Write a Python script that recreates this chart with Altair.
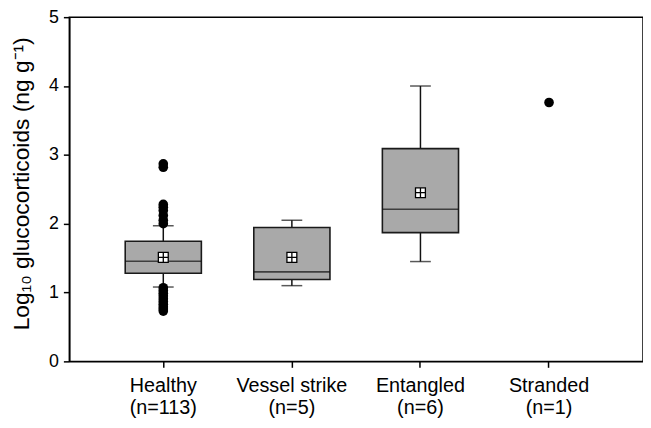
import altair as alt
import pandas as pd

# ---- data ----
categories = ["Healthy", "Vessel strike", "Entangled", "Stranded"]
n_labels = ["(n=113)", "(n=5)", "(n=6)", "(n=1)"]

box_cats = ["Healthy", "Vessel strike", "Entangled"]
q1 = [1.28, 1.19, 1.87]
median = [1.455, 1.30, 2.21]
q3 = [1.745, 1.945, 3.09]
whisker_lo = [1.08, 1.10, 1.45]
whisker_hi = [1.97, 2.05, 4.00]
means = [1.51, 1.51, 2.45]

point_cats = ["Healthy"] * 18 + ["Stranded"]
point_vals = [2.87, 2.82, 2.28, 2.24, 2.19, 2.12, 2.05, 2.00,
              1.07, 1.03, 0.99, 0.95, 0.91, 0.87, 0.83, 0.79, 0.76, 0.73,
              3.76]

y_ticks = [0, 1, 2, 3, 4, 5]

box_df = pd.DataFrame({"cat": box_cats, "q1": q1, "median": median, "q3": q3,
                       "lo": whisker_lo, "hi": whisker_hi, "mean": means})
caps_df = pd.DataFrame({"cat": box_cats + box_cats, "v": whisker_lo + whisker_hi})
pts_df = pd.DataFrame({"cat": point_cats, "v": point_vals})

label_map = "{" + ",".join(f"'{c}':'{n}'" for c, n in zip(categories, n_labels)) + "}"
label_expr = f"[datum.label, {label_map}[datum.label]]"

FONT = "Liberation Sans"

xscale = alt.Scale(domain=categories, paddingInner=0, paddingOuter=0.2308)
x_enc = alt.X("cat:N", scale=xscale, sort=categories, title=None,
              axis=alt.Axis(labelExpr=label_expr, labelAngle=0, labelFontSize=20,
                            labelLineHeight=23, labelPadding=8, tickSize=6,
                            domainWidth=1.5, tickWidth=1.5, labelFont=FONT,
                            labelColor="black", domainColor="black", tickColor="black",
                            labelBaseline="top"))
yscale = alt.Scale(domain=[0, 5], nice=False)
y_axis = alt.Axis(values=y_ticks, format="d", tickSize=6, labelFontSize=18, labelFont=FONT,
                  titleFont=FONT, titleFontSize=23, titleFontWeight="normal",
                  titleColor="black", labelColor="black", domainColor="black",
                  tickColor="black", domainWidth=1.5, tickWidth=1.5, grid=False,
                  labelPadding=5, titleAngle=270, titleX=-41, titleY=168,
                  titleAlign="center", titleBaseline="alphabetic")
ytitle = "Log\u2081\u2080  glucocorticoids  (ng g\u207b\u00b9)"

whiskers = alt.Chart(box_df).mark_rule(color="#111111", strokeWidth=1.5).encode(
    x=x_enc,
    y=alt.Y("lo:Q", scale=yscale, axis=y_axis, title=ytitle),
    y2="hi:Q")

caps = alt.Chart(caps_df).mark_tick(color="#111111", size=21, thickness=1.5).encode(
    x=x_enc, y=alt.Y("v:Q", scale=yscale))

boxes = alt.Chart(box_df).mark_bar(size=77, fill="#a9a9a9", stroke="#1a1a1a",
                                   strokeWidth=1.6).encode(
    x=x_enc, y=alt.Y("q1:Q", scale=yscale), y2="q3:Q")

meds = alt.Chart(box_df).mark_tick(color="#111111", size=77, thickness=1.6).encode(
    x=x_enc, y=alt.Y("median:Q", scale=yscale))

pts = alt.Chart(pts_df).mark_circle(size=95, color="black", opacity=1).encode(
    x=x_enc, y=alt.Y("v:Q", scale=yscale))

mean_mark = alt.Chart(box_df).mark_point(
    shape="M-1,-1H1V1H-1Z M0,-1V1 M-1,0H1", size=100, fill="white",
    stroke="black", strokeWidth=1.3, filled=False, opacity=1).encode(
    x=x_enc, y=alt.Y("mean:Q", scale=yscale))

chart = alt.layer(whiskers, caps, boxes, meds, pts, mean_mark).properties(
    width=580, height=348,
    autosize=alt.AutoSizeParams(type="none"),
    padding={"left": 62, "top": 7, "right": 0, "bottom": 57},
    background="white",
).configure_view(stroke="black", strokeWidth=1.5)

chart.save("out.html", embed_options={"renderer": "svg", "actions": False})
